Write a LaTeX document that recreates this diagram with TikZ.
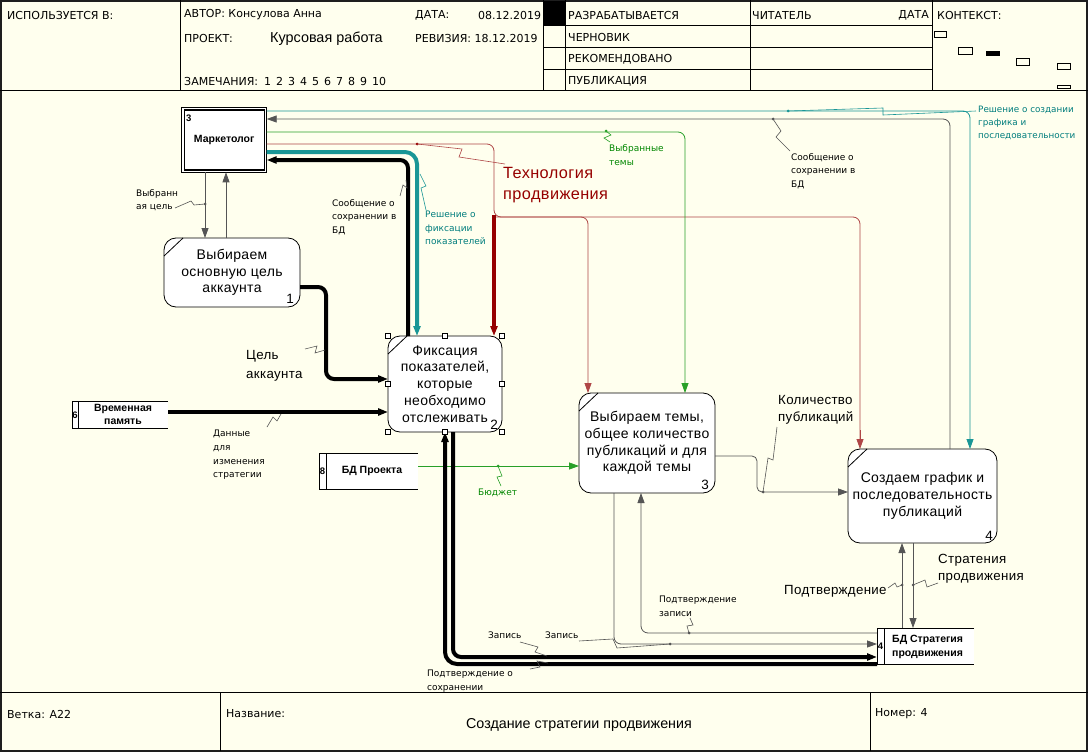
\documentclass[tikz,border=0pt]{standalone}
\usepackage{fontspec}
\setmainfont{Liberation Sans}
\newfontfamily\boxfont[LetterSpace=2.5]{Liberation Sans}
\newfontfamily\hdrfont{DejaVu Sans}
\usetikzlibrary{arrows.meta}
\definecolor{bgc}{RGB}{255,255,238}
\definecolor{framec}{RGB}{30,30,30}
\definecolor{tealc}{RGB}{25,150,150}
\definecolor{tealt}{RGB}{0,125,125}
\definecolor{redc}{RGB}{150,0,0}
\definecolor{redl}{RGB}{175,70,70}
\definecolor{greenc}{RGB}{40,160,40}
\definecolor{greent}{RGB}{0,135,0}
\definecolor{grayc}{RGB}{85,85,85}
\begin{document}
\begin{tikzpicture}[x=1pt,y=-1pt,>={Triangle[length=10pt,width=7pt]},
  hdr/.style={anchor=west,inner sep=0pt,font=\hdrfont\fontsize{11}{12}\selectfont},
  lbl/.style={anchor=west,inner sep=0pt,align=left,font=\hdrfont\fontsize{9}{13.6}\selectfont},
  lblm/.style={anchor=west,inner sep=0pt,align=left,font=\boxfont\fontsize{13.3}{17}\selectfont},
  proc/.style={draw,fill=white,rounded corners=12pt,line width=0.8pt,anchor=north west,inner sep=0pt,outer sep=0pt,align=center,font=\boxfont\fontsize{14}{16.8}\selectfont},
  num/.style={anchor=south east,inner sep=0pt,font=\fontsize{13.5}{13.5}\selectfont},
  store/.style={fill=white,anchor=north west,inner sep=0pt,outer sep=0pt},
  stxt/.style={inner sep=0pt,align=center,font=\bfseries\fontsize{10.5}{13.5}\selectfont},
  snum/.style={inner sep=0pt,font=\bfseries\fontsize{9.5}{9.5}\selectfont},
  ln/.style={line width=0.8pt,rounded corners=7pt},
  fat/.style={line width=4pt,rounded corners=8pt},
  sq/.style={line width=0.6pt},
  dot/.style={circle,fill,inner sep=0pt,minimum size=3pt}
]
\useasboundingbox (0,0) rectangle (1088,752);
\fill[bgc] (0,0) rectangle (1088,752);

% ---------- frame ----------
\draw[line width=1.2pt,framec] (1,1) rectangle (1087,751);
\draw[line width=0.8pt] (0,90) -- (1088,90);
\draw[line width=0.8pt] (0,692) -- (1088,692);
\foreach \x in {180,543,565,750,932} \draw[line width=0.8pt] (\x,0) -- (\x,90);
\foreach \y in {25,47,69} \draw[line width=0.8pt] (543,\y) -- (932,\y);
\fill (544,1) rectangle (565,25);
\draw[line width=0.8pt] (220,692) -- (220,751);
\draw[line width=0.8pt] (870,692) -- (870,751);
% context thumbnails
\draw[line width=0.6pt] (934,31) rectangle (946,37);
\draw[line width=0.6pt] (958,47) rectangle (972,54);
\fill (986,51) rectangle (1000,56);
\draw[line width=0.6pt] (1016,58) rectangle (1029,65);
\draw[line width=0.6pt] (1057,63) rectangle (1070,69);
\draw[line width=0.6pt] (1057,85) rectangle (1070,88);

% ---------- header texts ----------
\node[hdr] (h1) at (7,15) {ИСПОЛЬЗУЕТСЯ В:};
\node[hdr] (h2) at (184,15) {АВТОР: Консулова Анна};
\node[hdr] (h3) at (415,15) {ДАТА:};
\node[hdr] (h4) at (478,15) {08.12.2019};
\node[hdr] (h5) at (184,38) {ПРОЕКТ:};
\node[hdr,font=\fontsize{14.4}{14.4}\selectfont] (h6) at (270,39) {Курсовая работа};
\node[hdr] (h7) at (415,38) {РЕВИЗИЯ: 18.12.2019};
\node[hdr] (h8) at (184,81) {ЗАМЕЧАНИЯ:\hspace{6pt}1\hspace{5pt}2\hspace{5pt}3\hspace{5pt}4\hspace{5pt}5\hspace{5pt}6\hspace{5pt}7\hspace{5pt}8\hspace{5pt}9\hspace{5pt}10};
\node[hdr] (h9) at (568,15) {РАЗРАБАТЫВАЕТСЯ};
\node[hdr] (h10) at (568,37) {ЧЕРНОВИК};
\node[hdr] (h11) at (568,59) {РЕКОМЕНДОВАНО};
\node[hdr] (h12) at (568,81) {ПУБЛИКАЦИЯ};
\node[hdr] (h13) at (752,15) {ЧИТАТЕЛЬ};
\node[hdr,anchor=east] (h14) at (929,15) {ДАТА};
\node[hdr] (h15) at (937,15) {КОНТЕКСТ:};

% ---------- footer texts ----------
\node[hdr] (f1) at (7,714) {Ветка: A22};
\node[hdr] (f2) at (226,714) {Название:};
\node[hdr,anchor=center,font=\fontsize{14.3}{14.3}\selectfont] (f3) at (579,725) {Создание стратегии продвижения};
\node[hdr] (f4) at (875,714) {Номер: 4};

% ---------- external entity ----------
\node[draw,line width=0.7pt,fill=white,minimum width=85pt,minimum height=64.6pt,anchor=north west,inner sep=0pt,outer sep=0pt,font=\bfseries\fontsize{10.5}{12}\selectfont] (mk) at (181.7,107.7) {Маркетолог};
\draw[line width=1.2pt] ([shift={(2.4,2.4)}]mk.north west) rectangle ([shift={(-2.4,-2.4)}]mk.south east);
\node[anchor=west,inner sep=0pt,font=\bfseries\fontsize{9.5}{9.5}\selectfont] (mkn) at (186,118) {3};

% ---------- process boxes ----------
\node[proc,minimum width=136pt,minimum height=69pt] (b1) at (164,238) {Выбираем\\основную цель\\аккаунта};
\node[proc,minimum width=114pt,minimum height=96pt] (b2) at (388,336) {Фиксация\\показателей,\\которые\\необходимо\\отслеживать};
\node[proc,minimum width=136pt,minimum height=100pt] (b3) at (579,393) {Выбираем темы,\\общее количество\\публикаций и для\\каждой темы};
\node[proc,minimum width=149pt,minimum height=94pt] (b4) at (848,449) {Создаем график и\\последовательность\\публикаций};
\foreach \b in {b1,b2,b3,b4} \draw[line width=0.8pt] ([yshift=-18pt]\b.north west) -- ([xshift=19pt]\b.north west);
\node[num] (n1) at ([xshift=-6pt,yshift=3pt]b1.south east) {1};
\node[num] (n2) at ([xshift=-4pt,yshift=2pt]b2.south east) {2};
\node[num] (n3) at ([xshift=-6pt,yshift=3pt]b3.south east) {3};
\node[num] (n4) at ([xshift=-4pt,yshift=2pt]b4.south east) {4};

% ---------- data stores ----------
\node[store,minimum width=96pt,minimum height=27pt] (vm) at (72,401) {};
\draw[line width=0.8pt] (vm.north east) -- (vm.north west) -- (vm.south west) -- (vm.south east);
\draw[line width=0.8pt] (78,401) -- (78,428);
\node[snum] (vmn) at (75,415) {6};
\node[stxt] (vmt) at (123,414.5) {Временная\\память};

\node[store,minimum width=99pt,minimum height=36pt] (bp) at (319,453) {};
\draw[line width=0.8pt] (bp.north east) -- (bp.north west) -- (bp.south west) -- (bp.south east);
\draw[line width=0.8pt] (326,453) -- (326,489);
\node[snum] (bpn) at (322.5,471) {8};
\node[stxt] (bpt) at (372,471) {БД Проекта};

\node[store,minimum width=97pt,minimum height=36pt] (bs) at (877,628) {};
\draw[line width=0.8pt] (bs.north east) -- (bs.north west) -- (bs.south west) -- (bs.south east);
\draw[line width=0.8pt] (884,628) -- (884,664);
\node[snum] (bsn) at (880.5,646) {4};
\node[stxt,anchor=west,align=left] (bst) at (892,647) {БД Стратегия\\продвижения};

% ---------- connectors ----------
% Выбранная цель
\draw[ln,grayc,->] (mk.south -| 205,0) -- (b1.north -| 205,0);
\node[dot,grayc] (d1) at (205,204) {};
\draw[sq,grayc] (175,208) -- (191,201) -- (194,205) -- (d1.center);
\node[lbl] (l1) at (136,200) {Выбранн\\ая цель};
% b1 -> mk
\draw[ln,grayc,->] (b1.north -| 226,0) -- (mk.south -| 226,0);
% Цель аккаунта
\draw[fat,->] (b1.east |- 0,287) -- (326,287) -- (326,379) -- (b2.west |- 0,379);
\node[lblm,font=\boxfont\fontsize{13.3}{18.5}\selectfont] (l3) at (246,366) {Цель\\аккаунта};
\draw[sq,grayc] (305,349) -- (317,346) -- (315,353) -- (325,350);
% Данные для изменения стратегии
\draw[fat,->] (vm.east |- 0,412) -- (b2.west |- 0,412);
\node[lbl] (l4) at (213,455) {Данные\\для\\изменения\\стратегии};
\draw[sq,grayc] (267,427) -- (273,417) -- (277,421) -- (281,414);
% Сообщение о сохранении (b2 -> mk)
\draw[fat,->] (b2.north -| 408,0) -- (408,160) -- (mk.east |- 0,160);
\node[lbl] (l5) at (332,217) {Сообщение о\\сохранении в\\БД};
\draw[sq,grayc] (400,196) -- (403,185) -- (407,188) -- (406,180);
% Решение о фиксации показателей
\draw[fat,tealc,->,rounded corners=12pt] (mk.east |- 0,152) -- (417,152) -- (b2.north -| 417,0);
\node[lbl,text=tealt] (l6) at (425,228) {Решение о\\фиксации\\показателей};
\draw[sq,tealc] (420,174) -- (426,186) -- (421,188) -- (426,210);
% Технология продвижения
\coordinate (rj) at (494,215);
\draw[ln,redl] (mk.east |- 0,144) -- (494,144) -- (494,217) -- (860,217) -- (860,440);
\draw[ln,redl,->] (860,430) -- (b4.north -| 860,0);
\draw[ln,redl,->] (494,217) -- (588,217) -- (b3.north -| 588,0);
\draw[line width=4pt,redc,->] (rj) -- (b2.north -| 494,0);
\node[dot,redc] (d7) at (417,144) {};
\draw[sq,redl] (d7.center) -- (462,149) -- (459,157) -- (505,164);
\node[lblm,text=redc,font=\boxfont\fontsize{16.3}{21}\selectfont] (l7) at (503,185) {Технология\\продвижения};
% Выбранные темы
\draw[ln,greenc,->] (mk.east |- 0,132) -- (685,132) -- (b3.north -| 685,0);
\node[dot,greenc] (d8) at (606,131) {};
\draw[sq,greenc] (d8.center) -- (611,135) -- (604,138) -- (610,142);
\node[lbl,text=greent] (l8) at (609,155) {Выбранные\\темы};
% Сообщение о сохранении в БД (b4 -> mk)
\draw[ln,grayc,->] (b4.north -| 950,0) -- (950,119) -- (mk.east |- 0,119);
\node[dot,grayc] (d9) at (773,119) {};
\draw[sq,grayc] (d9.center) -- (781,131) -- (776,137) -- (790,151);
\node[lbl] (l9) at (791,171) {Сообщение о\\сохранении в\\БД};
% Решение о создании графика
\draw[ln,tealc,->] (mk.east |- 0,111) -- (970,111) -- (b4.north -| 970,0);
\node[dot,tealc] (d10) at (788,111) {};
\draw[sq,tealc] (d10.center) -- (883,108) -- (883,115) -- (976,111);
\node[lbl,text=tealt,font=\hdrfont\fontsize{8.8}{13.3}\selectfont] (l10) at (978,123) {Решение о создании\\графика и\\последовательности};
% Бюджет
\draw[ln,greenc,->] (bp.east |- 0,466) -- (b3.west |- 0,466);
\node[dot,greenc] (d11) at (498,466) {};
\draw[sq,greenc] (d11.center) -- (502,476) -- (497,477) -- (501,486);
\node[lbl,text=greent] (l11) at (478,493) {Бюджет};
% Количество публикаций
\draw[ln,grayc,->,rounded corners=5pt] (b3.east |- 0,456) -- (757,456) -- (757,492) -- (b4.west |- 0,492);
\node[dot,grayc] (d12) at (763,492) {};
\draw[sq,grayc] (d12.center) -- (768,458) -- (773,460) -- (777,427);
\node[lblm] (l12) at (778,410) {Количество\\публикаций};
% Подтверждение / Стратения продвижения
\draw[ln,grayc,->] (bs.north -| 902,0) -- (b4.south -| 902,0);
\draw[ln,grayc,->] (b4.south -| 913,0) -- (bs.north -| 913,0);
\node[dot,grayc] (d13) at (902,585) {};
\node[dot,grayc] (d14) at (913,585) {};
\draw[sq,grayc] (888,588) -- (895,583) -- (897,587) -- (d13.center);
\draw[sq,grayc] (d14.center) -- (925,580) -- (927,587) -- (938,583);
\node[lblm] (l13) at (784,591) {Подтверждение};
\node[lblm] (l14) at (938,569) {Стратения\\продвижения};
% Запись (b3 -> bs)
\draw[ln,grayc,->] (b3.south -| 614,0) -- (614,644) -- (bs.west |- 0,644);
\node[dot,grayc] (d15) at (670,644) {};
\draw[sq,grayc] (579,641) -- (613,639) -- (617,648) -- (d15.center);
\node[lbl] (l15) at (545,635) {Запись};
% Подтверждение записи (bs -> b3)
\draw[ln,grayc,->] (bs.west |- 0,633) -- (641,633) -- (b3.south -| 641,0);
\node[dot,grayc] (d16) at (689,633) {};
\draw[sq,grayc] (d16.center) -- (687,626) -- (693,625) -- (690,618);
\node[lbl] (l16) at (659,606) {Подтверждение\\записи};
% Запись (b2 -> bs), thick
\draw[fat,->] (b2.south -| 453,0) -- (453,657) -- (bs.west |- 0,657);
\node[lbl] (l17) at (488,635) {Запись};
\draw[sq,grayc] (520,642) -- (538,647) -- (535,652) -- (547,656);
% Подтверждение о сохранении (bs -> b2), thick
\draw[fat,->,rounded corners=12pt] (bs.west |- 0,664) -- (445,664) -- (b2.south -| 445,0);
\node[lbl] (l18) at (427,681) {Подтверждение о\\сохранении};
\draw[sq,grayc] (530,669) -- (540,667) -- (537,661) -- (548,663);

% ---------- selection handles on box 2 ----------
\foreach \p in {b2.north west,b2.north,b2.north east,b2.west,b2.east,b2.south west,b2.south,b2.south east}
  \draw[fill=white,line width=0.5pt] ([shift={(-2.5,-2.5)}]\p) rectangle ++(5,5);
\end{tikzpicture}
\end{document}
